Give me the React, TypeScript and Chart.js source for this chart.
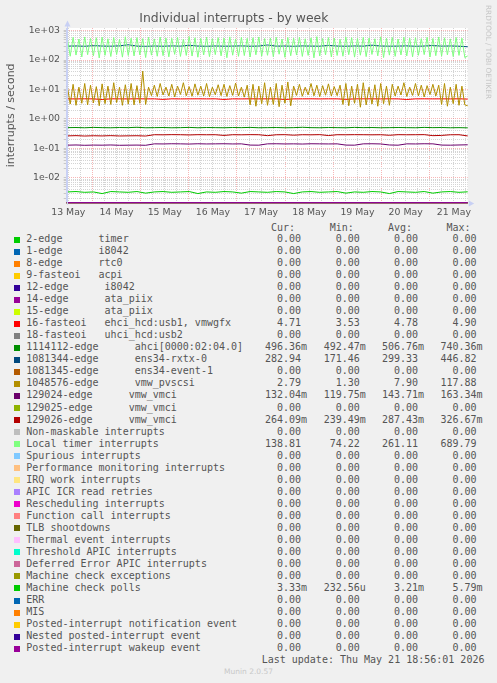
import React, { useEffect, useRef } from 'react';
import { Chart, registerables } from 'chart.js';

Chart.register(...registerables);

// ---------- time axis (hours since 13 May 00:00) ----------
const START_H = 11.2;
const END_H = 210.9;
const FINE_HOURS = Array.from({ length: 139 }, (_, i) => 11.5 + i * 1.445);
const COARSE_HOURS = Array.from({ length: 47 }, (_, i) => 11.5 + i * 4.335);
const EDGE_HOURS = [START_H, END_H];
const DAY_LABELS = ['13 May', '14 May', '15 May', '16 May', '17 May', '18 May', '19 May', '20 May', '21 May'];
const Y_MIN = 0.00142;
const Y_MAX = 1230;

// ---------- legend ----------
const LABELS = [
  '2-edge      timer',
  '1-edge      i8042',
  '8-edge      rtc0',
  '9-fasteoi   acpi',
  '12-edge      i8042',
  '14-edge      ata_piix',
  '15-edge      ata_piix',
  '16-fasteoi   ehci_hcd:usb1, vmwgfx',
  '18-fasteoi   uhci_hcd:usb2',
  '1114112-edge      ahci[0000:02:04.0]',
  '1081344-edge      ens34-rxtx-0',
  '1081345-edge      ens34-event-1',
  '1048576-edge      vmw_pvscsi',
  '129024-edge      vmw_vmci',
  '129025-edge      vmw_vmci',
  '129026-edge      vmw_vmci',
  'Non-maskable interrupts',
  'Local timer interrupts',
  'Spurious interrupts',
  'Performance monitoring interrupts',
  'IRQ work interrupts',
  'APIC ICR read retries',
  'Rescheduling interrupts',
  'Function call interrupts',
  'TLB shootdowns',
  'Thermal event interrupts',
  'Threshold APIC interrupts',
  'Deferred Error APIC interrupts',
  'Machine check exceptions',
  'Machine check polls',
  'ERR',
  'MIS',
  'Posted-interrupt notification event',
  'Nested posted-interrupt event',
  'Posted-interrupt wakeup event',
];

const COLORS = [
  '#00CC00', '#0066B3', '#FF8000', '#FFCC00', '#330099', '#990099', '#CCFF00', '#FF0000',
  '#808080', '#008F00', '#00487D', '#B35A00', '#B38F00', '#6B006B', '#8FB300', '#B30000',
  '#BEBEBE', '#80FF80', '#80C9FF', '#FFC080', '#FFE680', '#AA80FF', '#EE00CC', '#FF8080',
  '#666600', '#FFBFFF', '#00FFCC', '#CC6699', '#999900', '#00CC00', '#0066B3', '#FF8000',
  '#FFCC00', '#330099', '#990099',
];

const Z = '0.00';
const CUR = [Z, Z, Z, Z, Z, Z, Z, '4.71', Z, '496.36m', '282.94', Z, '2.79', '132.04m', Z, '264.09m', Z, '138.81', Z, Z, Z, Z, Z, Z, Z, Z, Z, Z, Z, '3.33m', Z, Z, Z, Z, Z];
const MIN = [Z, Z, Z, Z, Z, Z, Z, '3.53', Z, '492.47m', '171.46', Z, '1.30', '119.75m', Z, '239.49m', Z, '74.22', Z, Z, Z, Z, Z, Z, Z, Z, Z, Z, Z, '232.56u', Z, Z, Z, Z, Z];
const AVG = [Z, Z, Z, Z, Z, Z, Z, '4.78', Z, '506.76m', '299.33', Z, '7.90', '143.71m', Z, '287.43m', Z, '261.11', Z, Z, Z, Z, Z, Z, Z, Z, Z, Z, Z, '3.21m', Z, Z, Z, Z, Z];
const MAX = [Z, Z, Z, Z, Z, Z, Z, '4.90', Z, '740.36m', '446.82', Z, '117.88', '163.34m', Z, '326.67m', Z, '689.79', Z, Z, Z, Z, Z, Z, Z, Z, Z, Z, Z, '5.79m', Z, Z, Z, Z, Z];

// ---------- series values ----------
const ZERO_VALUES = [0, 0];

const LOCAL_TIMER = [
  560, 135, 590, 148, 520, 128, 610, 152, 545, 140,
  575, 118, 600, 145, 530, 132, 585, 155, 505, 126,
  620, 143, 555, 138, 580, 150, 540, 122, 595, 147,
  525, 135, 605, 141, 565, 129, 550, 156, 590, 133,
  515, 144, 630, 137, 570, 125, 545, 149, 600, 131,
  535, 153, 580, 139, 560, 120, 615, 146, 525, 134,
  590, 142, 550, 127, 575, 151, 610, 136, 540, 145,
  565, 130, 595, 158, 520, 124, 585, 140, 555, 148,
  600, 133, 530, 144, 570, 119, 625, 137, 545, 150,
  580, 128, 560, 143, 510, 135, 605, 152, 575, 126,
  540, 146, 590, 131, 565, 155, 530, 139, 615, 122,
  550, 147, 585, 134, 520, 149, 600, 138, 560, 129,
  575, 145, 535, 153, 595, 127, 545, 141, 610, 136,
  570, 150, 525, 132, 590, 144, 555, 121, 138.81,
];

const PVSCSI = [
  13, 3.2, 15, 2.9, 12, 3.4, 16, 3.0, 14, 3.5, 12.5, 2.8, 15.5, 3.3, 13, 3.1, 17, 3.6, 12, 2.9, 14.5, 3.2, 16, 3.0, 13.5, 3.4, 42, 3.1, 12,
  6.2, 14, 5.8, 16, 6.5, 12, 6.0, 15, 5.6, 13, 6.8, 17, 6.1, 12.5, 5.9, 15.5, 6.4, 13, 6.0, 16, 5.7, 12, 6.6, 14.5, 6.2, 15, 5.8, 13.5, 6.3, 16.5, 6.0, 12, 5.5, 14,
  3.0, 15, 2.7, 13, 3.3, 17, 2.9, 12, 3.1, 16, 2.6, 14, 3.4, 18, 2.8,
  13, 6.3, 15, 5.9, 12, 6.6, 16, 6.1, 14, 5.7, 13.5, 6.4, 15.5, 6.0, 12.5, 6.2, 14,
  3.1, 16, 2.8, 13, 3.4, 15, 2.5, 17, 3.0, 12, 3.2, 14.5, 2.7, 16, 3.3, 13, 2.9,
  15, 6.0, 13, 6.5, 17, 5.8, 12, 6.3, 16, 6.1, 14, 5.6, 13.5, 6.7, 15, 6.0,
  14, 3.1, 16, 2.7, 12, 3.3, 15, 2.9, 13, 3.0, 2.79,
];

const RXTX = [
  298, 302, 295, 310, 300, 297, 305, 330, 299, 294,
  301, 296, 303, 298, 318, 300, 295, 302, 297, 299,
  304, 296, 300, 325, 298, 301, 295, 303, 299, 297,
  315, 300, 296, 302, 298, 320, 301, 297, 299, 304,
  295, 300, 312, 298, 302, 296, 282.94,
];

const FASTEOI16 = [
  4.80, 4.78, 4.82, 4.79, 4.55, 4.81, 4.80, 4.77, 4.83, 4.79,
  4.80, 4.60, 4.81, 4.78, 4.80, 4.82, 4.79, 4.81, 4.58, 4.80,
  4.78, 4.82, 4.79, 4.80, 4.81, 4.56, 4.79, 4.80, 4.82, 4.78,
  4.81, 4.80, 4.62, 4.79, 4.81, 4.80, 4.78, 4.82, 4.79, 4.57,
  4.80, 4.81, 4.79, 4.80, 4.78, 4.82, 4.71,
];

const AHCI = [
  0.505, 0.51, 0.50, 0.515, 0.505, 0.50, 0.51, 0.505, 0.52, 0.50,
  0.505, 0.51, 0.50, 0.505, 0.515, 0.50, 0.51, 0.505, 0.50, 0.51,
  0.505, 0.515, 0.50, 0.505, 0.51, 0.50, 0.505, 0.52, 0.505, 0.50,
  0.51, 0.505, 0.50, 0.515, 0.505, 0.51, 0.50, 0.505, 0.51, 0.505,
  0.50, 0.515, 0.505, 0.51, 0.50, 0.505, 0.496,
];

const VMCI_129026 = [
  0.265, 0.27, 0.262, 0.268, 0.264, 0.27, 0.263, 0.266, 0.268, 0.262,
  0.29, 0.288, 0.292, 0.29, 0.285, 0.291, 0.289, 0.29, 0.275, 0.29,
  0.288, 0.292, 0.29, 0.27, 0.289, 0.291, 0.28, 0.29, 0.288, 0.292,
  0.272, 0.29, 0.289, 0.291, 0.29, 0.288, 0.29, 0.278, 0.291, 0.289,
  0.29, 0.292, 0.27, 0.275, 0.289, 0.29, 0.264,
];

const VMCI_129024 = [
  0.128, 0.13, 0.127, 0.129, 0.128, 0.13, 0.127, 0.128, 0.129, 0.127,
  0.142, 0.141, 0.143, 0.142, 0.14, 0.143, 0.141, 0.142, 0.143, 0.141,
  0.142, 0.129, 0.128, 0.142, 0.143, 0.141, 0.142, 0.14, 0.143, 0.142,
  0.141, 0.142, 0.129, 0.128, 0.142, 0.143, 0.141, 0.13, 0.128, 0.142,
  0.141, 0.143, 0.142, 0.129, 0.128, 0.13, 0.132,
];

const MC_POLLS = [
  0.0033, 0.0034, 0.0032, 0.0033, 0.0029, 0.0034, 0.0033, 0.0032, 0.0034, 0.0030,
  0.0033, 0.0034, 0.0032, 0.0033, 0.0034, 0.0029, 0.0033, 0.0032, 0.0034, 0.0033,
  0.0030, 0.0034, 0.0033, 0.0032, 0.0034, 0.0033, 0.0029, 0.0033, 0.0034, 0.0032,
  0.0033, 0.0034, 0.0030, 0.0033, 0.0032, 0.0034, 0.0033, 0.0029, 0.0034, 0.0033,
  0.0032, 0.0034, 0.0030, 0.0033, 0.0034, 0.0032, 0.00333,
];

const SERIES: Record<number, { hours: number[]; values: number[] }> = {
  7: { hours: COARSE_HOURS, values: FASTEOI16 },
  9: { hours: COARSE_HOURS, values: AHCI },
  10: { hours: COARSE_HOURS, values: RXTX },
  12: { hours: FINE_HOURS, values: PVSCSI },
  13: { hours: COARSE_HOURS, values: VMCI_129024 },
  15: { hours: COARSE_HOURS, values: VMCI_129026 },
  17: { hours: FINE_HOURS, values: LOCAL_TIMER },
  29: { hours: COARSE_HOURS, values: MC_POLLS },
};

const TEXT = '#555555';
const FIELD_LEFT = [265, 323.7, 382, 440.5];
const HEADERS = ['Cur:', 'Min:', 'Avg:', 'Max:'];
const ROW0_TOP = 233.1;
const ROW_H = 12.03;

function field(s: string) {
  const last = s[s.length - 1];
  const withUnit = /[a-z]/i.test(last) ? s : s + ' ';
  return withUnit.padStart(7, ' ');
}

const framePlugin = {
  id: 'frame',
  beforeDraw(chart: any) {
    const { ctx, chartArea: a } = chart;
    ctx.save();
    ctx.fillStyle = '#ffffff';
    ctx.fillRect(a.left, a.top, a.right - a.left, a.bottom - a.top);
    ctx.restore();
  },
  afterDraw(chart: any) {
    const { ctx, chartArea: a } = chart;
    ctx.save();
    ctx.strokeStyle = '#c8d0f4';
    ctx.fillStyle = '#c8d0f4';
    ctx.lineWidth = 1;
    const x0 = Math.round(a.left) + 0.5;
    ctx.beginPath();
    ctx.moveTo(x0, a.bottom + 2);
    ctx.lineTo(x0, a.top - 4);
    ctx.stroke();
    ctx.beginPath();
    ctx.moveTo(x0, a.top - 7.5);
    ctx.lineTo(x0 - 3, a.top - 1.5);
    ctx.lineTo(x0 + 3, a.top - 1.5);
    ctx.closePath();
    ctx.fill();
    const yb = Math.round(a.bottom) + 0.5;
    ctx.beginPath();
    ctx.moveTo(a.right + 6.5, yb);
    ctx.lineTo(a.right + 1, yb - 3);
    ctx.lineTo(a.right + 1, yb + 3);
    ctx.closePath();
    ctx.fill();
    ctx.restore();
  },
};

export default function App() {
  const ref = useRef<HTMLCanvasElement>(null);

  useEffect(() => {
    const canvas = ref.current;
    if (!canvas) return;
    const n = LABELS.length;
    const datasets = LABELS.map((label, i) => {
      const s = SERIES[i] || { hours: EDGE_HOURS, values: ZERO_VALUES };
      return {
        label,
        // values <= 0 cannot sit on a log axis: they are drawn on the axis floor, as rrdtool does
        data: s.hours.map((h, k) => ({ x: h, y: s.values[k] > 0 ? s.values[k] : Y_MIN })),
        borderColor: COLORS[i],
        backgroundColor: COLORS[i],
        borderWidth: 1,
        pointRadius: 0,
        tension: 0,
        fill: false,
        clip: 2,
        order: n - i,
      };
    });

    const chart = new Chart(canvas, {
      type: 'line',
      data: { datasets },
      plugins: [framePlugin],
      options: {
        animation: false,
        responsive: false,
        maintainAspectRatio: false,
        events: [],
        layout: { padding: { left: 0, right: 29.3, top: 0, bottom: 0 } },
        plugins: {
          legend: { display: false },
          tooltip: { enabled: false },
          title: {
            display: true,
            text: 'Individual interrupts - by week',
            color: TEXT,
            font: { family: 'DejaVu Sans', size: 12.4, weight: 'normal' },
            padding: { top: 11.5, bottom: 1.62 },
          },
        },
        scales: {
          x: {
            type: 'linear',
            min: START_H,
            max: END_H,
            afterBuildTicks: (scale: any) => {
              const t = [];
              for (let h = Math.ceil(START_H / 6) * 6; h <= END_H; h += 6) t.push({ value: h });
              scale.ticks = t;
            },
            afterFit: (scale: any) => {
              scale.height = 17.3;
            },
            ticks: {
              autoSkip: false,
              maxRotation: 0,
              minRotation: 0,
              padding: 4,
              color: TEXT,
              font: { family: 'DejaVu Sans', size: 9.33 },
              callback: (v: any) => {
                const h = Number(v);
                if (h % 24 === 12) return DAY_LABELS[Math.floor(h / 24)] || '';
                return '';
              },
            },
            grid: {
              drawTicks: false,
              lineWidth: 1,
              color: (ctx: any) => (ctx.tick && ctx.tick.value % 24 === 0 ? 'rgba(240,110,110,0.5)' : '#d4d4d4'),
            },
            border: { display: true, color: '#c8d0f4', dash: [1, 1] },
          },
          y: {
            type: 'logarithmic',
            min: Y_MIN,
            max: Y_MAX,
            afterBuildTicks: (scale: any) => {
              const t = [];
              for (let e = -3; e <= 3; e++) {
                for (let m = 1; m <= 9; m++) {
                  const v = m * Math.pow(10, e);
                  if (v >= Y_MIN && v <= Y_MAX) t.push({ value: v, major: m === 1 });
                }
              }
              scale.ticks = t;
            },
            afterFit: (scale: any) => {
              scale.width = 66.7;
            },
            ticks: {
              autoSkip: false,
              padding: 3.7,
              color: TEXT,
              font: { family: 'DejaVu Sans', size: 9.33 },
              callback: (v: any) => {
                const val = Number(v);
                const e = Math.round(Math.log10(val));
                if (Math.abs(val / Math.pow(10, e) - 1) < 1e-6) {
                  return '1e' + (e < 0 ? '-' : '+') + String(Math.abs(e)).padStart(2, '0');
                }
                return '';
              },
            },
            grid: {
              drawTicks: true,
              tickLength: 3,
              tickColor: '#c8c8c8',
              lineWidth: 1,
              color: (ctx: any) => {
                const v = ctx.tick ? ctx.tick.value : 1;
                const e = Math.round(Math.log10(v));
                return Math.abs(v / Math.pow(10, e) - 1) < 1e-6 ? 'rgba(240,110,110,0.5)' : '#d4d4d4';
              },
            },
            border: { display: true, color: '#c8d0f4', dash: [1, 1] },
            title: {
              display: true,
              text: 'interrupts / second',
              color: TEXT,
              font: { family: 'DejaVu Sans', size: 11 },
              padding: { top: 4.2, bottom: 0 },
            },
          },
        },
      } as any,
    });
    return () => chart.destroy();
  }, []);

  return (
    <div
      style={{
        position: 'absolute',
        left: 0,
        top: 0,
        width: 497,
        height: 683,
        background: '#f0f0f0',
        overflow: 'hidden',
        fontFamily: "'DejaVu Sans Mono', monospace",
        fontSize: 10,
        lineHeight: '12px',
        color: TEXT,
      }}
    >
      <canvas ref={ref} width={497} height={220} style={{ position: 'absolute', left: 0, top: 0, display: 'block' }} />
      <div
        style={{
          position: 'absolute',
          left: 492.8,
          top: 5,
          transformOrigin: '0 0',
          transform: 'rotate(90deg)',
          fontFamily: "'DejaVu Sans', sans-serif",
          fontSize: 7.3,
          lineHeight: '9px',
          color: '#c4c4c4',
          whiteSpace: 'nowrap',
        }}
      >
        RRDTOOL / TOBI OETIKER
      </div>
      {HEADERS.map((h, j) => (
        <div key={h} style={{ position: 'absolute', left: FIELD_LEFT[j] + 6, top: ROW0_TOP - 11, whiteSpace: 'pre' }}>
          {h}
        </div>
      ))}
      {LABELS.map((label, i) => {
        const top = ROW0_TOP + i * ROW_H;
        const vals = [CUR[i], MIN[i], AVG[i], MAX[i]];
        return (
          <React.Fragment key={i}>
            <div style={{ position: 'absolute', left: 14, top: top + 3.5, width: 6, height: 6, background: COLORS[i] }} />
            <div style={{ position: 'absolute', left: 26.3, top, whiteSpace: 'pre' }}>{label}</div>
            {vals.map((v, j) => (
              <div key={j} style={{ position: 'absolute', left: FIELD_LEFT[j], top, whiteSpace: 'pre' }}>
                {field(v)}
              </div>
            ))}
          </React.Fragment>
        );
      })}
      <div style={{ position: 'absolute', left: 261.7, top: ROW0_TOP + 35 * ROW_H, whiteSpace: 'pre' }}>
        Last update: Thu May 21 18:56:01 2026
      </div>
      <div
        style={{
          position: 'absolute',
          left: 0,
          width: 497,
          top: 667,
          textAlign: 'center',
          fontFamily: "'DejaVu Sans', sans-serif",
          fontSize: 7.5,
          lineHeight: '9px',
          color: '#c8c8c8',
        }}
      >
        Munin 2.0.57
      </div>
    </div>
  );
}
